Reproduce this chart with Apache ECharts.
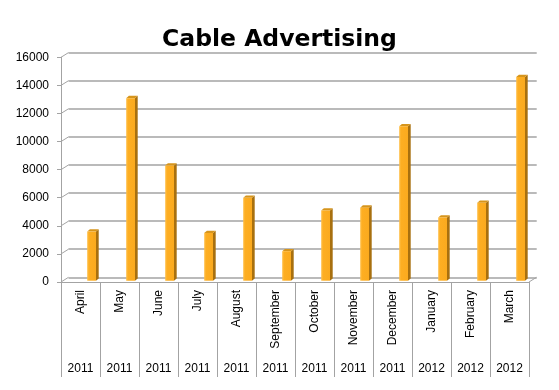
<!DOCTYPE html>
<html>
<head>
<meta charset="utf-8">
<script src="https://cdn.jsdelivr.net/npm/echarts@6/dist/echarts.min.js"></script>
<style>html,body{margin:0;padding:0;background:#fff}#c{width:559px;height:390px}</style>
</head>
<body>
<div id="c"></div>
<script>
const months = ['April','May','June','July','August','September','October','November','December','January','February','March'];
const years = ['2011','2011','2011','2011','2011','2011','2011','2011','2011','2012','2012','2012'];
const values = [3500, 13000, 8200, 3400, 5900, 2100, 5000, 5200, 11000, 4500, 5550, 14500];
const yTicks = [0, 2000, 4000, 6000, 8000, 10000, 12000, 14000, 16000];

const FONT = 'Liberation Sans, Arial, sans-serif';
const GRID_COLOR = '#a3a3a3';
const DX = 7.5, DY = -4.7;

const chart = echarts.init(document.getElementById('c'), null, {renderer: 'canvas'});

const option = {
  animation: false,
  backgroundColor: '#fff',
  title: {
    text: 'Cable Advertising',
    left: 'center',
    top: 23,
    textStyle: {fontFamily: 'DejaVu Sans, sans-serif', fontSize: 23.5, fontWeight: 'bold', color: '#000'}
  },
  grid: [
    {left: 68.5, right: 22.3, top: 52.6, bottom: 112.7},   // back wall
    {left: 61, right: 30, top: 57.3, bottom: 108},          // front axes
    {left: 61, right: 30, top: 56, bottom: 109.3}           // bars (mid depth)
  ],
  xAxis: [
    {gridIndex: 0, type: 'category', data: months, show: false},
    {gridIndex: 1, type: 'category', data: months, boundaryGap: true,
      axisLine: {show: true, lineStyle: {color: GRID_COLOR, width: 1}},
      axisTick: {show: true, alignWithLabel: false, length: 95, inside: false, lineStyle: {color: GRID_COLOR, width: 1}},
      axisLabel: {rotate: 90, interval: 0, margin: 8, fontFamily: FONT, fontSize: 12, color: '#000'}
    },
    {gridIndex: 1, type: 'category', data: years, position: 'bottom', boundaryGap: true,
      axisLine: {show: false}, axisTick: {show: false},
      axisLabel: {interval: 0, margin: 81, fontFamily: FONT, fontSize: 12, color: '#000'}
    },
    {gridIndex: 2, type: 'category', data: months, show: false}
  ],
  yAxis: [
    {gridIndex: 0, type: 'value', min: 0, max: 16000, interval: 2000,
      axisLine: {show: false}, axisTick: {show: false}, axisLabel: {show: false},
      splitLine: {show: true, lineStyle: {color: GRID_COLOR, width: 1.5}}
    },
    {gridIndex: 1, type: 'value', min: 0, max: 16000, interval: 2000,
      axisLine: {show: true, lineStyle: {color: GRID_COLOR, width: 1}},
      axisTick: {show: true, length: 4, lineStyle: {color: GRID_COLOR, width: 1}},
      axisLabel: {margin: 12, fontFamily: FONT, fontSize: 12, color: '#000', formatter: v => String(v)},
      splitLine: {show: false}
    },
    {gridIndex: 2, type: 'value', min: 0, max: 16000, show: false, splitLine: {show: false}}
  ],
  series: [
    {
      type: 'custom',
      name: 'frame',
      xAxisIndex: 1, yAxisIndex: 1,
      clip: false,
      silent: true,
      z: 1,
      data: yTicks.map(v => [0, v]),
      renderItem: function (params, api) {
        const v = api.value(1);
        const w = api.size([1, 0])[0];
        const p = api.coord([0, v]);
        const x0 = p[0] - w / 2;
        const y = p[1];
        const children = [{
          type: 'line',
          shape: {x1: x0, y1: y, x2: x0 + DX, y2: y + DY},
          style: {stroke: GRID_COLOR, lineWidth: 1}
        }];
        if (v === 0) {
          const pr = api.coord([months.length - 1, v]);
          const x1 = pr[0] + w / 2;
          children.push({
            type: 'line',
            shape: {x1: x1, y1: y, x2: x1 + DX, y2: y + DY},
            style: {stroke: GRID_COLOR, lineWidth: 1}
          });
        }
        return {type: 'group', children: children};
      }
    },
    {
      type: 'custom',
      name: 'Cable Advertising',
      xAxisIndex: 3, yAxisIndex: 2,
      clip: false,
      z: 3,
      data: values.map((v, i) => [i, v]),
      renderItem: function (params, api) {
        const i = api.value(0), v = api.value(1);
        const top = api.coord([i, v]);
        const base = api.coord([i, 0]);
        const cx = top[0];
        const xl = cx + 6.7, xr = cx + 15.5;
        const sx = 2.7, sy = 2.3;
        const y1 = top[1], y0 = base[1];
        return {
          type: 'group',
          children: [
            {type: 'polygon', shape: {points: [[xr, y1], [xr + sx, y1 - sy], [xr + sx, y0 - sy], [xr, y0]]},
              style: {fill: '#a8700f'}},
            {type: 'polygon', shape: {points: [[xl, y1], [xl + sx, y1 - sy], [xr + sx, y1 - sy], [xr, y1]]},
              style: {fill: '#d6951c'}},
            {type: 'rect', shape: {x: xl, y: y1, width: xr - xl, height: y0 - y1},
              style: {fill: new echarts.graphic.LinearGradient(0, 0, 1, 0, [
                {offset: 0, color: '#ffbe45'}, {offset: 0.25, color: '#fdae22'}, {offset: 1, color: '#fbaa1e'}])}}
          ]
        };
      }
    }
  ]
};
chart.setOption(option);
</script>
</body>
</html>
